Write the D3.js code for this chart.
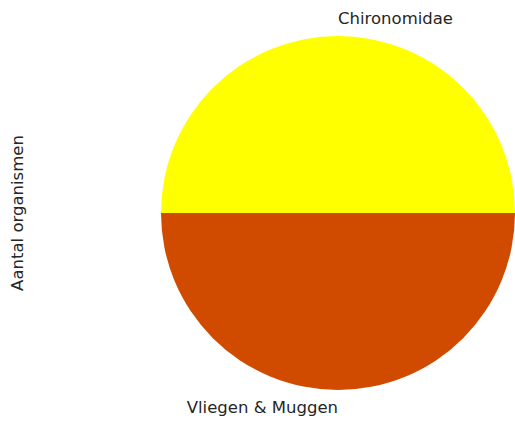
<!DOCTYPE html>
<html>
<head>
<meta charset="utf-8">
<script src="https://cdn.jsdelivr.net/npm/d3@7"></script>
<style>
html,body{margin:0;padding:0;background:#fff;}
svg{display:block;}
text{font-family:"DejaVu Sans",sans-serif;fill:#262626;}
</style>
</head>
<body>
<svg id="chart" width="515" height="426"></svg>
<script>
const categories = ["Chironomidae", "Vliegen & Muggen"];
const values = [1, 1];
const colors = ["#ffff00", "#d04b00"];
const yLabel = "Aantal organismen";

const svg = d3.select("#chart");
const cx = 338, cy = 213, r = 177;
const fontSize = 16.5;

const data = categories.map((c, i) => ({cat: c, value: values[i], color: colors[i]}));

// matplotlib style: start at 3 o'clock, counterclockwise
const pie = d3.pie().value(d => d.value).sort(null)
  .startAngle(Math.PI / 2).endAngle(Math.PI / 2 - 2 * Math.PI);
const arcs = pie(data);
const arc = d3.arc().innerRadius(0).outerRadius(r);

const g = svg.append("g").attr("transform", `translate(${cx},${cy})`);
g.selectAll("path").data(arcs).enter().append("path")
  .attr("d", arc)
  .attr("fill", d => d.data.color);

g.selectAll("text.lbl").data(arcs).enter().append("text")
  .attr("class", "lbl")
  .each(function(d) {
    const mid = (d.startAngle + d.endAngle) / 2;
    let x = 1.1 * r * Math.sin(mid);
    const y = -1.1 * r * Math.cos(mid);
    if (Math.abs(x) < 1e-6) x = 0;
    const anchor = x === 0 ? (y < 0 ? "start" : "end") : (x > 0 ? "start" : "end");
    d3.select(this)
      .attr("x", x)
      .attr("y", y)
      .attr("dy", "0.35em")
      .attr("text-anchor", anchor)
      .attr("font-size", fontSize)
      .text(d.data.cat);
  });

svg.append("text")
  .attr("transform", `translate(23,${cy}) rotate(-90)`)
  .attr("text-anchor", "middle")
  .attr("font-size", fontSize)
  .text(yLabel);
</script>
</body>
</html>
